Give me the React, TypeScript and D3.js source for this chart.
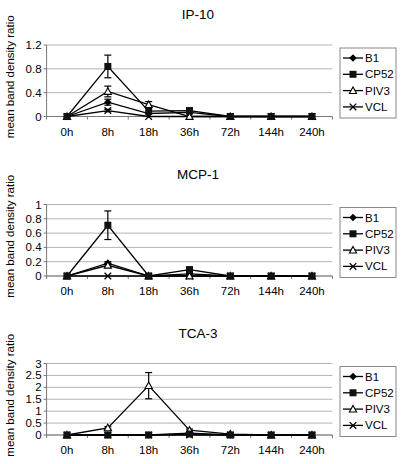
import React from "react";
import * as d3 from "d3";

const categories = ["0h", "8h", "18h", "36h", "72h", "144h", "240h"];
const seriesNames = ["B1", "CP52", "PIV3", "VCL"];

// IP-10
const ip10B1 = [0, 0.24, 0.05, 0.07, 0, 0, 0];
const ip10CP52 = [0, 0.84, 0.09, 0.1, 0, 0, 0];
const ip10PIV3 = [0, 0.42, 0.2, 0, 0, 0, 0];
const ip10VCL = [0, 0.1, 0, 0, 0, 0, 0];
const ip10B1Err = [0, 0.05, 0, 0, 0, 0, 0];
const ip10CP52Err = [0, 0.19, 0, 0, 0, 0, 0];
const ip10PIV3Err = [0, 0.09, 0.05, 0, 0, 0, 0];
const ip10VCLErr = [0, 0.02, 0, 0, 0, 0, 0];
const ip10Ticks = [0, 0.4, 0.8, 1.2];

// MCP-1
const mcpB1 = [0, 0.18, 0, 0.03, 0, 0, 0];
const mcpCP52 = [0, 0.71, 0, 0.09, 0, 0, 0];
const mcpPIV3 = [0, 0.15, 0, 0, 0, 0, 0];
const mcpVCL = [0, 0, 0, 0, 0, 0, 0];
const mcpB1Err = [0, 0.02, 0, 0, 0, 0, 0];
const mcpCP52Err = [0, 0.2, 0, 0, 0, 0, 0];
const mcpPIV3Err = [0, 0.02, 0, 0, 0, 0, 0];
const mcpVCLErr = [0, 0, 0, 0, 0, 0, 0];
const mcpTicks = [0, 0.2, 0.4, 0.6, 0.8, 1];

// TCA-3
const tcaB1 = [0, 0, 0, 0.08, 0, 0, 0];
const tcaCP52 = [0, 0, 0, 0.04, 0, 0, 0];
const tcaPIV3 = [0, 0.3, 2.07, 0.2, 0.04, 0, 0];
const tcaVCL = [0, 0, 0, 0, 0, 0, 0];
const tcaB1Err = [0, 0, 0, 0, 0, 0, 0];
const tcaCP52Err = [0, 0, 0, 0, 0, 0, 0];
const tcaPIV3Err = [0, 0.05, 0.55, 0.05, 0, 0, 0];
const tcaVCLErr = [0, 0, 0, 0, 0, 0, 0];
const tcaTicks = [0, 0.5, 1, 1.5, 2, 2.5, 3];

const panelTitles = ["IP-10", "MCP-1", "TCA-3"];
const panelTicks = [ip10Ticks, mcpTicks, tcaTicks];
const panelValues = [
  [ip10B1, ip10CP52, ip10PIV3, ip10VCL],
  [mcpB1, mcpCP52, mcpPIV3, mcpVCL],
  [tcaB1, tcaCP52, tcaPIV3, tcaVCL],
];
const panelErrors = [
  [ip10B1Err, ip10CP52Err, ip10PIV3Err, ip10VCLErr],
  [mcpB1Err, mcpCP52Err, mcpPIV3Err, mcpVCLErr],
  [tcaB1Err, tcaCP52Err, tcaPIV3Err, tcaVCLErr],
];

const PLOT_TOPS = [45, 204.5, 363.5];
const PLOT_H = 71.5;
const X0 = 46.6;
const X1 = 332.4;
const FONT = "Liberation Sans, Arial, sans-serif";
const GRID = "#b4b4b4";

function Marker({ kind, x, y }: { kind: string; x: number; y: number }) {
  if (kind === "B1") {
    const s = 3.8;
    return (
      <path
        d={`M${x},${y - s}L${x + s},${y}L${x},${y + s}L${x - s},${y}Z`}
        fill="#000"
      />
    );
  }
  if (kind === "CP52") {
    return <rect x={x - 3.5} y={y - 3.5} width={7} height={7} fill="#111" />;
  }
  if (kind === "PIV3") {
    const s = 3.6;
    return (
      <path
        d={`M${x},${y - s}L${x + s},${y + s * 0.8}L${x - s},${y + s * 0.8}Z`}
        fill="#fff"
        stroke="#000"
        strokeWidth={1.1}
      />
    );
  }
  const s = 3.3;
  return (
    <g stroke="#000" strokeWidth={1.3}>
      <line x1={x - s} y1={y - s} x2={x + s} y2={y + s} />
      <line x1={x - s} y1={y + s} x2={x + s} y2={y - s} />
    </g>
  );
}

function Panel({ idx }: { idx: number }) {
  const top = PLOT_TOPS[idx];
  const ticks = panelTicks[idx];
  const yMax = ticks[ticks.length - 1];
  const x = d3.scaleBand<string>().domain(categories).range([X0, X1]);
  const cx = (c: string) => (x(c) as number) + x.bandwidth() / 2;
  const y = d3.scaleLinear().domain([0, yMax]).range([top + PLOT_H, top]);
  const line = d3
    .line<number>()
    .x((_, i) => cx(categories[i]))
    .y((v) => y(v));
  const values = panelValues[idx];
  const errs = panelErrors[idx];
  const fmt = (v: number) => String(v);
  const bandEdges = categories.map((c) => x(c) as number).concat([X1]);
  const legTop = top + 3;
  const legX = 340;
  return (
    <g>
      <text
        x={198}
        y={top - 26}
        textAnchor="middle"
        fontFamily={FONT}
        fontSize={13.5}
        fill="#000"
      >
        {panelTitles[idx]}
      </text>
      <text
        transform={`translate(14,${top + PLOT_H / 2 - 4}) rotate(-90)`}
        textAnchor="middle"
        fontFamily={FONT}
        fontSize={11.5}
        fill="#000"
      >
        mean band density ratio
      </text>
      {ticks.map((t) => (
        <g key={t}>
          <line x1={X0} x2={X1} y1={y(t)} y2={y(t)} stroke={GRID} strokeWidth={1} />
          <line x1={X0 - 3} x2={X0} y1={y(t)} y2={y(t)} stroke="#777" />
          <text
            x={X0 - 5}
            y={y(t)}
            dy="0.35em"
            textAnchor="end"
            fontFamily={FONT}
            fontSize={11.5}
            fill="#000"
          >
            {fmt(t)}
          </text>
        </g>
      ))}
      <line x1={X0} x2={X0} y1={top} y2={top + PLOT_H} stroke="#777" />
      <line x1={X0} x2={X1} y1={top + PLOT_H} y2={top + PLOT_H} stroke="#777" />
      {bandEdges.map((e, i) => (
        <line key={i} x1={e} x2={e} y1={top + PLOT_H} y2={top + PLOT_H + 3} stroke="#777" />
      ))}
      {categories.map((c) => (
        <text
          key={c}
          x={cx(c)}
          y={top + PLOT_H + 19}
          textAnchor="middle"
          fontFamily={FONT}
          fontSize={11.5}
          fill="#000"
        >
          {c}
        </text>
      ))}
      {values.map((vals, si) => (
        <path key={si} d={line(vals) || ""} fill="none" stroke="#000" strokeWidth={1.3} />
      ))}
      {values.map((vals, si) =>
        vals.map((v, i) => {
          const e = errs[si][i];
          if (!e) return null;
          const px = cx(categories[i]);
          return (
            <g key={`${si}-${i}`} stroke="#000" strokeWidth={1.2}>
              <line x1={px} x2={px} y1={y(v + e)} y2={y(Math.max(0, v - e))} />
              <line x1={px - 3.5} x2={px + 3.5} y1={y(v + e)} y2={y(v + e)} />
              <line
                x1={px - 3.5}
                x2={px + 3.5}
                y1={y(Math.max(0, v - e))}
                y2={y(Math.max(0, v - e))}
              />
            </g>
          );
        })
      )}
      {[3, 0, 2, 1].map((si) =>
        values[si].map((v, i) => (
          <Marker key={`${si}-${i}`} kind={seriesNames[si]} x={cx(categories[i])} y={y(v)} />
        ))
      )}
      <rect
        x={legX}
        y={legTop}
        width={56}
        height={70}
        fill="#fff"
        stroke="#888"
        strokeWidth={1}
      />
      {seriesNames.map((n, i) => {
        const ly = legTop + 10 + i * 16.3;
        return (
          <g key={n}>
            <line x1={legX + 3} x2={legX + 23} y1={ly} y2={ly} stroke="#000" strokeWidth={1.3} />
            <Marker kind={n} x={legX + 13} y={ly} />
            <text
              x={legX + 25}
              y={ly}
              dy="0.35em"
              fontFamily={FONT}
              fontSize={11.5}
              fill="#000"
            >
              {n}
            </text>
          </g>
        );
      })}
    </g>
  );
}

export default function App() {
  return (
    <svg
      width={405}
      height={464}
      style={{ position: "absolute", left: 0, top: 0, background: "#fff" }}
    >
      <rect width={405} height={464} fill="#fff" />
      {[0, 1, 2].map((i) => (
        <Panel key={i} idx={i} />
      ))}
    </svg>
  );
}
